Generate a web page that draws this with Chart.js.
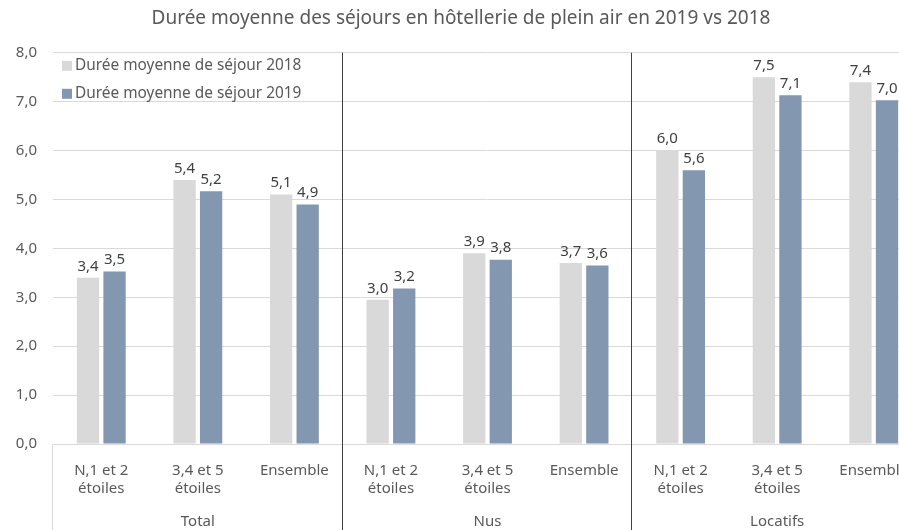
<!DOCTYPE html>
<html lang="fr">
<head>
    <meta charset="UTF-8">
    <title>Durée moyenne des séjours</title>
    <script src="https://cdn.jsdelivr.net/npm/chart.js"></script>
    <style>
        html, body { margin: 0; padding: 0; background: #fff; overflow: hidden; }
        #wrap { width: 922px; height: 530px; }
    </style>
</head>
<body>
    <div id="wrap">
        <canvas id="dureeChart" width="922" height="530"></canvas>
    </div>

    <script>
        // Data
        const categories = [
            ['N,1 et 2', 'étoiles'], ['3,4 et 5', 'étoiles'], ['Ensemble'],
            ['N,1 et 2', 'étoiles'], ['3,4 et 5', 'étoiles'], ['Ensemble'],
            ['N,1 et 2', 'étoiles'], ['3,4 et 5', 'étoiles'], ['Ensemble']
        ];
        const groups = ['Total', 'Nus', 'Locatifs'];
        const duree2018 = [3.4, 5.4, 5.1, 2.95, 3.9, 3.7, 6.0, 7.5, 7.4];
        const duree2019 = [3.53, 5.17, 4.9, 3.18, 3.77, 3.65, 5.6, 7.13, 7.03];
        const labels2018 = ['3,4', '5,4', '5,1', '3,0', '3,9', '3,7', '6,0', '7,5', '7,4'];
        const labels2019 = ['3,5', '5,2', '4,9', '3,2', '3,8', '3,6', '5,6', '7,1', '7,0'];

        const FONT = "'Noto Sans', sans-serif";
        const TEXT = '#595959';

        // value labels above each bar
        const valueLabels = {
            id: 'valueLabels',
            afterDatasetsDraw(chart) {
                const ctx = chart.ctx;
                const texts = [labels2018, labels2019];
                ctx.save();
                ctx.font = '15px ' + FONT;
                ctx.fillStyle = '#404040';
                ctx.textAlign = 'center';
                ctx.textBaseline = 'bottom';
                chart.data.datasets.forEach((ds, i) => {
                    chart.getDatasetMeta(i).data.forEach((bar, j) => {
                        ctx.fillText(texts[i][j], bar.x, bar.y - 4);
                    });
                });
                ctx.restore();
            }
        };

        // group labels + divider lines under the category axis
        const groupAxis = {
            id: 'groupAxis',
            afterDraw(chart) {
                const ctx = chart.ctx;
                const x = chart.scales.x;
                const area = chart.chartArea;
                const half = (x.getPixelForValue(1) - x.getPixelForValue(0)) / 2;
                ctx.save();
                // light left border of the axis box
                ctx.strokeStyle = '#d9d9d9';
                ctx.lineWidth = 1;
                ctx.beginPath();
                ctx.moveTo(area.left - 0.5, area.bottom);
                ctx.lineTo(area.left - 0.5, chart.height);
                ctx.stroke();
                // dark separators between groups
                ctx.strokeStyle = '#404040';
                for (let g = 1; g < groups.length; g++) {
                    const px = Math.round(x.getPixelForValue(g * 3) - half) - 0.5;
                    ctx.beginPath();
                    ctx.moveTo(px, area.top);
                    ctx.lineTo(px, chart.height);
                    ctx.stroke();
                }
                ctx.font = '15px ' + FONT;
                ctx.fillStyle = TEXT;
                ctx.textAlign = 'center';
                ctx.textBaseline = 'middle';
                groups.forEach((g, i) => {
                    const cx = x.getPixelForValue(i * 3 + 1);
                    ctx.fillText(g, cx, area.bottom + 78);
                });
                ctx.restore();
            }
        };

        // legend inside the plot, top left
        const innerLegend = {
            id: 'innerLegend',
            afterDraw(chart) {
                const ctx = chart.ctx;
                const area = chart.chartArea;
                ctx.save();
                ctx.font = '15.4px ' + FONT;
                ctx.textBaseline = 'middle';
                chart.data.datasets.forEach((ds, i) => {
                    const y = area.top + 13 + i * 28;
                    ctx.fillStyle = ds.backgroundColor;
                    ctx.fillRect(area.left + 9, y - 5, 10, 10);
                    ctx.fillStyle = TEXT;
                    ctx.fillText(ds.label, area.left + 22, y);
                });
                ctx.restore();
            }
        };

        const ctx = document.getElementById('dureeChart').getContext('2d');
        new Chart(ctx, {
            type: 'bar',
            data: {
                labels: categories,
                datasets: [
                    {
                        label: 'Durée moyenne de séjour 2018',
                        data: duree2018,
                        backgroundColor: '#d9d9d9'
                    },
                    {
                        label: 'Durée moyenne de séjour 2019',
                        data: duree2019,
                        backgroundColor: '#8497b0'
                    }
                ]
            },
            options: {
                responsive: false,
                animation: false,
                devicePixelRatio: 1,
                layout: { padding: { left: 0, right: 0, top: 0, bottom: 0 } },
                datasets: {
                    bar: { categoryPercentage: 0.55, barPercentage: 0.84 }
                },
                plugins: {
                    legend: { display: false },
                    tooltip: { enabled: false },
                    title: {
                        display: true,
                        text: 'Durée moyenne des séjours en hôtellerie de plein air en 2019 vs 2018',
                        color: TEXT,
                        font: { family: FONT, size: 19, weight: 'normal' },
                        padding: { top: 7, bottom: 23 }
                    }
                },
                scales: {
                    x: {
                        afterFit(scale) { scale.height = 86; },
                        grid: { display: false },
                        border: { color: '#d9d9d9' },
                        ticks: {
                            color: TEXT,
                            font: { family: FONT, size: 15 },
                            maxRotation: 0,
                            autoSkip: false,
                            padding: 10
                        }
                    },
                    y: {
                        min: 0,
                        max: 8,
                        afterFit(scale) { scale.width = 53; },
                        grid: { color: '#d9d9d9', drawTicks: false },
                        border: { display: false },
                        ticks: {
                            stepSize: 1,
                            color: TEXT,
                            padding: 16,
                            font: { family: FONT, size: 15 },
                            callback: (v) => v.toFixed(1).replace('.', ',')
                        }
                    }
                }
            },
            plugins: [valueLabels, groupAxis, innerLegend]
        });
    </script>
</body>
</html>
